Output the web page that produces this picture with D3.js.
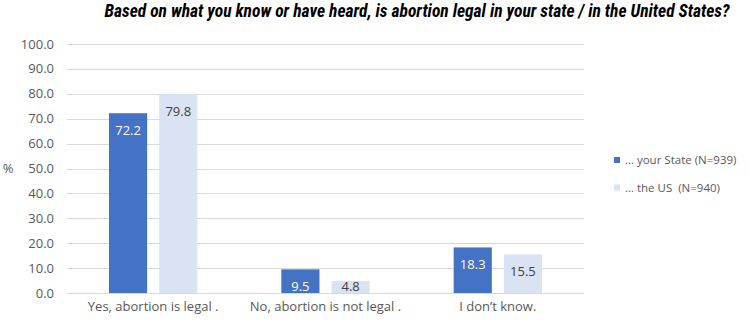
<!DOCTYPE html>
<html>
<head>
<meta charset="utf-8">
<script src="https://cdn.jsdelivr.net/npm/d3@7"></script>
<style>
  body { margin: 0; background: #fff; }
  text { font-family: "Open Sans", "Noto Sans", sans-serif; white-space: pre; }
</style>
</head>
<body>
<svg id="chart" width="750" height="321"></svg>
<script>
// data
var categories = ["Yes, abortion is legal .", "No, abortion is not legal .", "I don\u2019t know."];
var seriesNames = ["\u2026 your State (N=939)", "\u2026 the US  (N=940)"];
var stateValues = [72.2, 9.5, 18.3];
var usValues = [79.8, 4.8, 15.5];
var yTicks = [0, 10, 20, 30, 40, 50, 60, 70, 80, 90, 100];

var colors = ["#4472C4", "#DAE3F3"];
var labelColors = ["#ffffff", "#404040"];

var svg = d3.select("#chart");
var margin = {left: 67, right: 166, top: 44, bottom: 28};
var width = 750 - margin.left - margin.right,
    height = 321 - margin.top - margin.bottom;

var g = svg.append("g")
    .attr("transform", "translate(" + margin.left + "," + margin.top + ")");

var x0 = d3.scaleBand().domain(categories).range([0, width]).paddingInner(0).paddingOuter(0);
var x1 = d3.scaleBand().domain([0, 1]).range([42, x0.bandwidth() - 42]).paddingInner(0.24);
var y = d3.scaleLinear().domain([0, 100]).range([height, 0]);

// title
svg.append("text")
    .attr("x", 417).attr("y", 17)
    .attr("text-anchor", "middle")
    .style("font-family", "'Liberation Sans Narrow', 'Roboto Condensed', 'Liberation Sans', sans-serif")
    .style("font-weight", "bold").style("font-style", "italic")
    .style("font-size", "17.5px").style("fill", "#000")
    .text("Based on what you know or have heard, is abortion legal in your state / in the United States?");

// grid
g.append("g").selectAll("line")
    .data(yTicks)
    .enter().append("line")
    .attr("x1", 0).attr("x2", width)
    .attr("y1", d => Math.round(y(d)) + 0.5).attr("y2", d => Math.round(y(d)) + 0.5)
    .style("stroke", "#D9D9D9").style("stroke-width", 1);

// y labels
g.append("g").selectAll("text")
    .data(yTicks)
    .enter().append("text")
    .attr("x", -13).attr("y", d => y(d)).attr("dy", "0.35em")
    .attr("text-anchor", "end")
    .style("font-size", "13px").style("fill", "#595959")
    .text(d => d3.format(".1f")(d));

svg.append("text")
    .attr("x", 8).attr("y", y(50) + margin.top).attr("dy", "0.35em")
    .attr("text-anchor", "middle")
    .style("font-size", "13px").style("fill", "#595959")
    .text("%");

// bars
var rows = categories.map((c, i) => ({cat: c, vals: [stateValues[i], usValues[i]]}));

var groups = g.selectAll(".grp").data(rows).enter().append("g")
    .attr("class", "grp")
    .attr("transform", d => "translate(" + x0(d.cat) + ",0)");

groups.selectAll("rect")
    .data(d => d.vals.map((v, s) => ({v: v, s: s})))
    .enter().append("rect")
    .attr("x", d => x1(d.s))
    .attr("width", x1.bandwidth())
    .attr("y", d => y(d.v))
    .attr("height", d => height - y(d.v))
    .style("fill", d => colors[d.s]);

groups.selectAll("text.val")
    .data(d => d.vals.map((v, s) => ({v: v, s: s})))
    .enter().append("text")
    .attr("class", "val")
    .attr("x", d => x1(d.s) + x1.bandwidth() / 2)
    .attr("y", d => Math.min(y(d.v) + 17, height - 7))
    .attr("dy", "0.35em")
    .attr("text-anchor", "middle")
    .style("font-size", "13px")
    .style("fill", d => labelColors[d.s])
    .text(d => d3.format(".1f")(d.v));

// x labels
g.append("g").selectAll("text")
    .data(categories)
    .enter().append("text")
    .attr("x", d => x0(d) + x0.bandwidth() / 2)
    .attr("y", height + 18)
    .attr("text-anchor", "middle")
    .style("font-size", "13px").style("fill", "#595959")
    .text(d => d);

// legend
var legend = svg.append("g").attr("transform", "translate(614,160)");
var li = legend.selectAll("g").data(seriesNames).enter().append("g")
    .attr("transform", (d, i) => "translate(0," + i * 27.5 + ")");
li.append("rect").attr("x", 0).attr("y", -3).attr("width", 6).attr("height", 6)
    .style("fill", (d, i) => colors[i]);
li.append("text").attr("x", 11).attr("y", 0).attr("dy", "0.35em")
    .style("font-size", "11.5px").style("fill", "#595959")
    .text(d => d);
</script>
</body>
</html>
